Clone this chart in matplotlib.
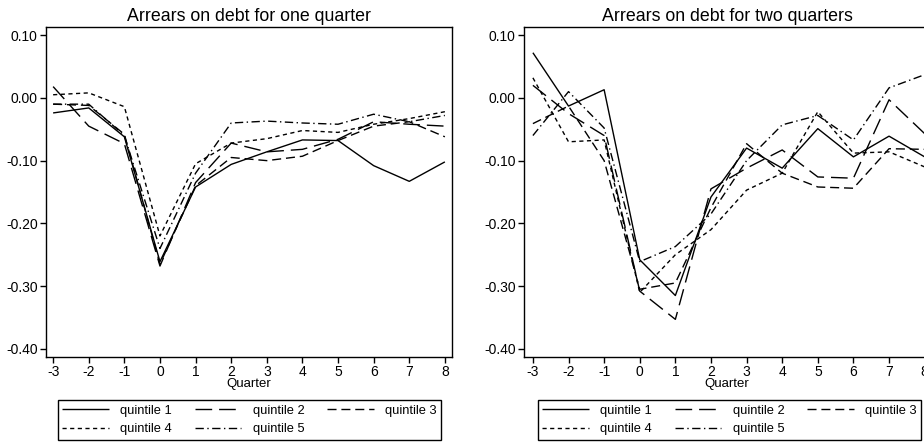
import matplotlib
matplotlib.use("Agg")
import matplotlib.pyplot as plt

plt.rcParams['font.family'] = ['Liberation Sans', 'DejaVu Sans']

quarters = [-3, -2, -1, 0, 1, 2, 3, 4, 5, 6, 7, 8]
labels = ["quintile 1", "quintile 2", "quintile 3", "quintile 4", "quintile 5"]
titles = ["Arrears on debt for one quarter", "Arrears on debt for two quarters"]
yticks = [0.10, 0.00, -0.10, -0.20, -0.30, -0.40]
ytick_labels = ["0.10", "0.00", "-0.10", "-0.20", "-0.30", "-0.40"]

# one quarter
one_q1 = [-0.024, -0.016, -0.062, -0.261, -0.142, -0.106, -0.086, -0.067, -0.068, -0.108, -0.133, -0.102]
one_q2 = [0.018, -0.045, -0.073, -0.268, -0.135, -0.072, -0.086, -0.082, -0.066, -0.038, -0.042, -0.045]
one_q3 = [-0.010, -0.012, -0.058, -0.265, -0.140, -0.095, -0.100, -0.093, -0.068, -0.045, -0.038, -0.062]
one_q4 = [0.005, 0.008, -0.014, -0.220, -0.105, -0.072, -0.065, -0.052, -0.055, -0.042, -0.033, -0.022]
one_q5 = [-0.010, -0.010, -0.060, -0.240, -0.120, -0.040, -0.037, -0.040, -0.042, -0.026, -0.038, -0.028]

# two quarters
two_q1 = [0.072, -0.013, 0.013, -0.258, -0.315, -0.158, -0.080, -0.112, -0.049, -0.094, -0.061, -0.094]
two_q2 = [0.020, -0.025, -0.060, -0.308, -0.353, -0.145, -0.112, -0.083, -0.126, -0.128, -0.003, -0.057]
two_q3 = [-0.041, -0.013, -0.100, -0.305, -0.295, -0.175, -0.073, -0.120, -0.142, -0.144, -0.081, -0.082]
two_q4 = [0.032, -0.070, -0.067, -0.310, -0.250, -0.210, -0.147, -0.120, -0.022, -0.088, -0.086, -0.110]
two_q5 = [-0.060, 0.010, -0.048, -0.261, -0.237, -0.185, -0.100, -0.043, -0.028, -0.067, 0.016, 0.037]

panels = [[one_q1, one_q2, one_q3, one_q4, one_q5],
          [two_q1, two_q2, two_q3, two_q4, two_q5]]

styles = [(0, ()), (0, (12, 5)), (0, (6.5, 3.5)), (0, (3, 2.5)), (0, (6, 2.5, 1, 2.5))]

W, H = 924, 443
fig = plt.figure(figsize=(W / 100, H / 100), dpi=100)

ax_px = [(46, 27, 406, 330), (524, 27, 406, 330)]
xlims = [(-3.2, 8.2), (-3.25, 8.15)]
leg_px = [(56, 398, 387, 44), (534, 398, 391, 44)]

for i, (px, series) in enumerate(zip(ax_px, panels)):
    l, t, w, h = px
    ax = fig.add_axes([l / W, 1 - (t + h) / H, w / W, h / H])
    lines = []
    for s, lab, ls in zip(series, labels, styles):
        ln, = ax.plot(quarters, s, color='black', lw=1.0, linestyle=ls, label=lab)
        lines.append(ln)
    ax.set_xlim(*xlims[i])
    ax.set_ylim(-0.413, 0.113)
    ax.set_xticks(quarters)
    ax.set_xticklabels([str(q) for q in quarters])
    ax.set_yticks(yticks)
    ax.set_yticklabels(ytick_labels)
    ax.tick_params(direction='out', length=4, width=1, labelsize=10, pad=2, colors='black')
    for sp in ax.spines.values():
        sp.set_linewidth(1.0)
        sp.set_color('black')
    ax.set_title(titles[i], fontsize=12.8, pad=4)
    ax.set_xlabel("Quarter", fontsize=9.5, labelpad=-1)
    order = [0, 3, 1, 4, 2]
    lx, ly, lw_, lh = leg_px[i]
    leg = ax.legend([lines[k] for k in order], [labels[k] for k in order],
                    loc='center', bbox_to_anchor=((lx + lw_ / 2) / W, 1 - (ly + lh / 2) / H),
                    bbox_transform=fig.transFigure, ncol=3, fontsize=9.3,
                    handlelength=3.6, columnspacing=1.75, handletextpad=0.9,
                    labelspacing=0.5, borderpad=0.35, fancybox=False, framealpha=1,
                    edgecolor='black')
    leg.get_frame().set_linewidth(1.0)

fig.savefig("out.png", dpi=100)
